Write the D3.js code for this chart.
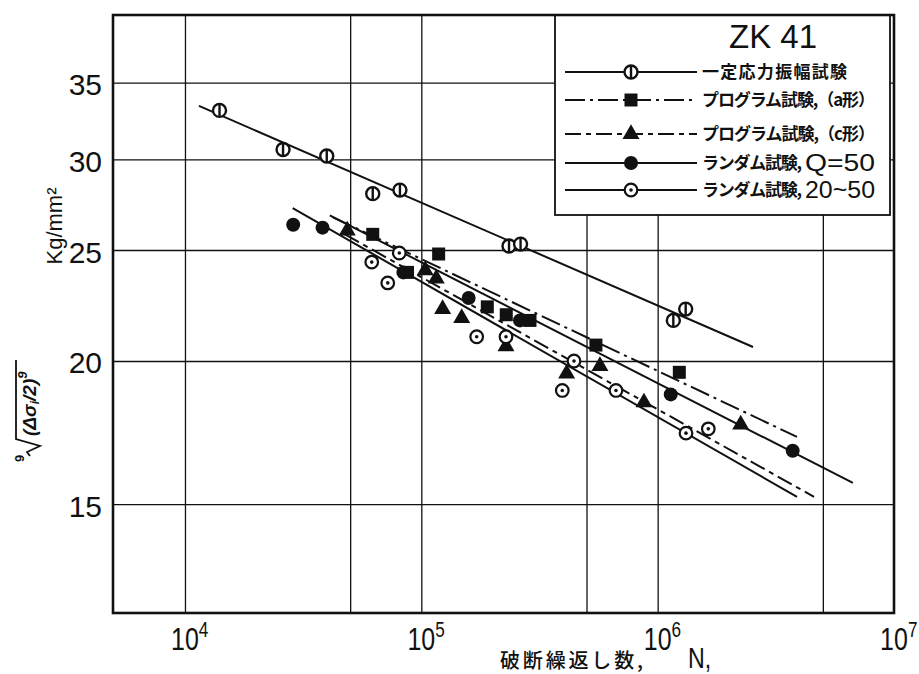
<!DOCTYPE html>
<html>
<head>
<meta charset="utf-8">
<script src="https://cdn.jsdelivr.net/npm/d3@7"></script>
<style>
  body { margin: 0; background: #fff; }
  svg { display: block; }
  text { fill: #111; }
</style>
</head>
<body>
<svg id="chart" width="919" height="674"></svg>
<script>
// ---- S–N fatigue data, ZK 41 magnesium alloy ----
const yTicks = [15, 20, 25, 30, 35];
const xGrid = [1e4, 5e4, 1e5, 5e5, 1e6, 5e6];
const xTickExp = [4, 5, 6, 7];

// constant stress-amplitude tests
const cyclesConst = [14000, 26000, 39800, 62300, 81200, 235000, 263000, 1165000, 1314000];
const stressConst = [33.1, 30.6, 30.2, 28.0, 28.2, 25.2, 25.3, 21.7, 22.2];

// programme tests, type a
const cyclesProgA = [62300, 118400, 87400, 190200, 228800, 288300, 548000, 1235000];
const stressProgA = [25.8, 24.8, 23.9, 22.3, 21.95, 21.7, 20.65, 19.55];

// programme tests, type c
const cyclesProgC = [48600, 103900, 115700, 123100, 148200, 228200, 412000, 570000, 875000, 2246000];
const stressProgC = [26.0, 24.0, 23.6, 22.2, 21.8, 20.6, 19.5, 19.8, 18.4, 17.6];

// random tests, Q = 50
const cyclesRandQ = [28700, 38200, 84000, 158600, 261500, 1136000, 3727000];
const stressRandQ = [26.3, 26.15, 23.9, 22.7, 21.7, 18.7, 16.7];

// random tests, 20-50
const cyclesRand2050 = [80700, 61700, 72100, 171500, 228200, 442600, 394900, 666300, 1318000, 1638000];
const stressRand2050 = [24.85, 24.4, 23.4, 21.0, 21.0, 20.0, 18.85, 18.85, 17.3, 17.45];

// fitted S–N lines, [cycles, stress] at each end
const fitConst = [[11460, 33.4], [2532000, 20.57]];
const fitProgA = [[42300, 26.7], [3887000, 17.17]];
const fitProgC = [[47500, 25.8], [4590000, 15.22]];
const fitRandQ = [[41000, 26.8], [6700000, 15.65]];
const fitRand2050 = [[28560, 27.2], [3887000, 15.22]];

const legendTitle = "ZK 41";
const legendLabels = ["一定応力振幅試験", "プログラム試験,（a形）", "プログラム試験,（c形）", "ランダム試験,", "ランダム試験,"];
const legendSuffix = ["", "", "", "Q=50", "20~50"];

// ---- drawing ----
const svg = d3.select("#chart");
const x = d3.scaleLog().domain([4960, 1e7]).range([113, 894]);
const y = d3.scaleLog().domain([12.05, 40.1]).range([613, 15]);
const [x0, x1] = x.range();
const [y0, y1] = y.range();

const zip = (a, b) => a.map((v, i) => [v, b[i]]);

const series = [
  { pts: zip(cyclesConst, stressConst), fit: fitConst, marker: "ringBar", dash: null },
  { pts: zip(cyclesProgA, stressProgA), fit: fitProgA, marker: "square", dash: "20,5,3,5" },
  { pts: zip(cyclesProgC, stressProgC), fit: fitProgC, marker: "triangle", dash: "16,5,5,5" },
  { pts: zip(cyclesRandQ, stressRandQ), fit: fitRandQ, marker: "disc", dash: null },
  { pts: zip(cyclesRand2050, stressRand2050), fit: fitRand2050, marker: "ringDot", dash: null }
];

// grid via axes
const gx = svg.append("g")
  .attr("transform", `translate(0,${y0})`)
  .call(d3.axisBottom(x).tickValues(xGrid).tickSize(-(y0 - y1)).tickFormat(""));
const gy = svg.append("g")
  .attr("transform", `translate(${x0},0)`)
  .call(d3.axisLeft(y).tickValues(yTicks).tickSize(-(x1 - x0)).tickPadding(11).tickFormat(d3.format("d")));
[gx, gy].forEach(g => {
  g.select(".domain").remove();
  g.selectAll(".tick line").attr("stroke", "#111").attr("stroke-width", 1.3);
});
gy.selectAll(".tick text")
  .attr("font-family", "'Liberation Sans', Arial, sans-serif")
  .attr("font-size", 30)
  .attr("dy", "0.40em")
  .attr("fill", "#111");

// x tick labels 10^n
const xl = svg.append("g");
xTickExp.forEach(e => {
  const g = xl.append("g").attr("transform", `translate(${x(Math.pow(10, e))},650) scale(0.78,1)`);
  const t = g.append("text")
    .attr("x", -17.8)
    .attr("font-family", "'Liberation Sans', Arial, sans-serif")
    .attr("font-size", 32)
    .text("10");
  t.append("tspan").attr("dy", -13).attr("font-size", 22).text(e);
});

// fit lines
const line = d3.line().x(d => x(d[0])).y(d => y(d[1]));
series.forEach(s => {
  svg.append("path")
    .attr("d", line(s.fit))
    .attr("fill", "none")
    .attr("stroke", "#111")
    .attr("stroke-width", 2)
    .attr("stroke-dasharray", s.dash);
});

// marker shapes
function drawMarker(g, type, cx, cy) {
  if (type === "ringBar") {
    g.append("circle").attr("cx", cx).attr("cy", cy).attr("r", 6.5)
      .attr("fill", "#fff").attr("stroke", "#111").attr("stroke-width", 2.4);
    g.append("line").attr("x1", cx).attr("x2", cx).attr("y1", cy - 6.5).attr("y2", cy + 6.5)
      .attr("stroke", "#111").attr("stroke-width", 2.4);
  } else if (type === "square") {
    g.append("rect").attr("x", cx - 6.5).attr("y", cy - 6.5).attr("width", 13).attr("height", 13)
      .attr("fill", "#111");
  } else if (type === "triangle") {
    g.append("path").attr("d", d3.symbol(d3.symbolTriangle, 125)())
      .attr("transform", `translate(${cx},${cy})`).attr("fill", "#111");
  } else if (type === "disc") {
    g.append("circle").attr("cx", cx).attr("cy", cy).attr("r", 7).attr("fill", "#111");
  } else if (type === "ringDot") {
    g.append("circle").attr("cx", cx).attr("cy", cy).attr("r", 6.3)
      .attr("fill", "#fff").attr("stroke", "#111").attr("stroke-width", 2.2);
    g.append("circle").attr("cx", cx).attr("cy", cy).attr("r", 1.8).attr("fill", "#111");
  }
}

const mk = svg.append("g");
series.forEach(s => s.pts.forEach(p => drawMarker(mk, s.marker, x(p[0]), y(p[1]))));

// legend box
const lg = svg.append("g");
lg.append("rect").attr("x", 555).attr("y", y1).attr("width", 335).attr("height", 200)
  .attr("fill", "#fff").attr("stroke", "#111").attr("stroke-width", 1.8);
lg.append("text").attr("x", 773).attr("y", 48).attr("text-anchor", "middle")
  .attr("font-family", "'Liberation Sans', Arial, sans-serif").attr("font-size", 33)
  .text(legendTitle);
const rowY = [72, 100, 134, 163, 190];
const textLen = [145, 173, 173, 100, 100];
series.forEach((s, i) => {
  const ry = rowY[i];
  lg.append("line").attr("x1", 565).attr("x2", 697).attr("y1", ry).attr("y2", ry)
    .attr("stroke", "#111").attr("stroke-width", 2).attr("stroke-dasharray", s.dash);
  drawMarker(lg, s.marker, 631, ry);
  lg.append("text").attr("x", 702).attr("y", ry + 6)
    .attr("font-family", "'Noto Sans CJK JP', sans-serif").attr("font-size", 17)
    .attr("font-weight", 700)
    .attr("textLength", textLen[i]).attr("lengthAdjust", "spacing")
    .text(legendLabels[i]);
  if (legendSuffix[i]) {
    lg.append("text").attr("x", 805).attr("y", ry + 8)
      .attr("font-family", "'Liberation Sans', Arial, sans-serif").attr("font-size", 23)
      .attr("textLength", 70).attr("lengthAdjust", "spacingAndGlyphs")
      .text(legendSuffix[i]);
  }
});

// frame
svg.append("rect").attr("x", x0).attr("y", y1).attr("width", x1 - x0).attr("height", y0 - y1)
  .attr("fill", "none").attr("stroke", "#111").attr("stroke-width", 2.6);

// x axis title
svg.append("text").attr("x", 500).attr("y", 668)
  .attr("font-family", "'Noto Sans CJK JP', sans-serif").attr("font-size", 20)
  .attr("font-weight", 500)
  .attr("textLength", 143).attr("lengthAdjust", "spacing")
  .text("破断繰返し数,");
svg.append("g").attr("transform", "translate(688,668) scale(0.8,1)")
  .append("text").attr("font-family", "'Liberation Sans', Arial, sans-serif").attr("font-size", 29)
  .text("N,");

// y axis title: unit
svg.append("text").attr("transform", "translate(62,226) rotate(-90)")
  .attr("text-anchor", "middle")
  .attr("font-family", "'Liberation Sans', Arial, sans-serif").attr("font-size", 22)
  .text("Kg/mm²");

// y axis title: ninth-root mean of stress amplitude
const rt = svg.append("g").attr("transform", "translate(36,412) rotate(-90)");
rt.append("text").attr("x", -50).attr("y", -12)
  .attr("font-family", "'Liberation Sans', Arial, sans-serif").attr("font-size", 13).attr("font-weight", "bold")
  .text("9");
rt.append("path").attr("d", "M-44,-6 L-40,-9 L-34,4 L-27,-20 L52,-20")
  .attr("fill", "none").attr("stroke", "#111").attr("stroke-width", 1.8);
const ex = rt.append("text").attr("x", -24).attr("y", 0)
  .attr("font-family", "'Liberation Sans', Arial, sans-serif").attr("font-size", 19)
  .attr("font-weight", "bold").attr("font-style", "italic");
ex.append("tspan").text("(Δσ");
ex.append("tspan").attr("font-size", 12).attr("dy", 3).text("i");
ex.append("tspan").attr("dy", -3).text("/2)");
ex.append("tspan").attr("font-size", 13).attr("dy", -9).text("9");
</script>
</body>
</html>
